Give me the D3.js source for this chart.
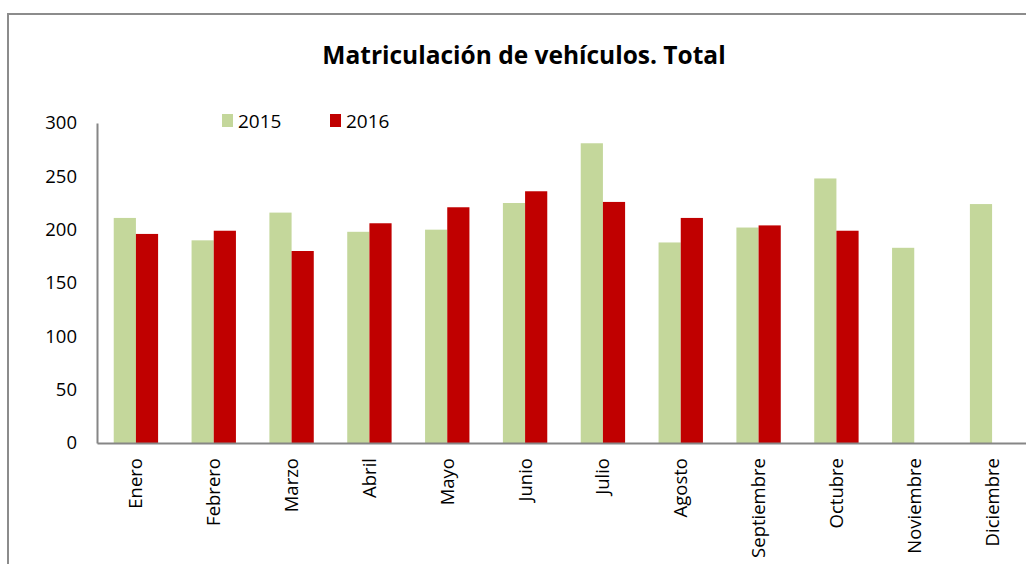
<!DOCTYPE html>
<html>
<head>
<meta charset="utf-8">
<script src="https://cdn.jsdelivr.net/npm/d3@7"></script>
<style>
  html, body { margin: 0; padding: 0; background: #fff; }
  svg { display: block; font-family: "Open Sans", sans-serif; }
</style>
</head>
<body>
<div id="chart"></div>
<script>
const months = ['Enero', 'Febrero', 'Marzo', 'Abril', 'Mayo', 'Junio', 'Julio',
    'Agosto', 'Septiembre', 'Octubre', 'Noviembre', 'Diciembre'];
const seriesNames = ['2015', '2016'];
const values2015 = [211, 190, 216, 198, 200, 225, 281, 188, 202, 248, 183, 224];
const values2016 = [196, 199, 180, 206, 221, 236, 226, 211, 204, 199, null, null];
const yTicks = [0, 50, 100, 150, 200, 250, 300];
const colors = ['#c4d79b', '#c00000'];

function drawChart() {
    const W = 1026, H = 564;
    const svg = d3.select('#chart').append('svg')
        .attr('width', W)
        .attr('height', H);

    // outer chart frame (only top and left edges are visible)
    svg.append('rect')
        .attr('x', 8).attr('y', 14)
        .attr('width', 1100).attr('height', 700)
        .attr('fill', 'none')
        .attr('stroke', '#8c8c8c')
        .attr('stroke-width', 2);

    svg.append('text')
        .attr('x', 524)
        .attr('y', 64)
        .attr('text-anchor', 'middle')
        .style('font-size', '24.5px')
        .style('font-weight', 'bold')
        .text('Matriculación de vehículos. Total');

    const left = 97, right = 1031, top = 123, bottom = 443;

    const x0 = d3.scaleBand()
        .domain(months)
        .range([left, right]);

    const x1 = d3.scaleBand()
        .domain(seriesNames)
        .range([x0.bandwidth() * 0.215, x0.bandwidth() * 0.785]);

    const y = d3.scaleLinear()
        .domain([0, 300])
        .range([bottom, top]);

    const rows = months.map((m, i) => ({
        month: m,
        vals: [
            { key: '2015', value: values2015[i] },
            { key: '2016', value: values2016[i] }
        ]
    }));

    const groups = svg.append('g').selectAll('g')
        .data(rows)
        .join('g')
        .attr('transform', d => `translate(${x0(d.month)},0)`);

    groups.selectAll('rect')
        .data(d => d.vals.filter(v => v.value != null))
        .join('rect')
        .attr('x', d => x1(d.key))
        .attr('y', d => y(d.value))
        .attr('width', x1.bandwidth())
        .attr('height', d => y(0) - y(d.value))
        .attr('fill', d => colors[seriesNames.indexOf(d.key)]);

    // Y axis
    const yAxis = svg.append('g')
        .attr('transform', `translate(${left},0)`)
        .call(d3.axisLeft(y).tickValues(yTicks).tickSize(0).tickPadding(20));
    yAxis.select('.domain').attr('stroke', '#868686').attr('stroke-width', 2);
    yAxis.selectAll('text')
        .style('font-size', '18.5px')
        .style('font-family', '"Open Sans", sans-serif')
        .attr('fill', '#000');

    // X axis
    const xAxis = svg.append('g')
        .attr('transform', `translate(0,${bottom})`)
        .call(d3.axisBottom(x0).tickSize(0).tickSizeOuter(0));
    xAxis.select('.domain').attr('stroke', '#868686').attr('stroke-width', 2);
    xAxis.selectAll('text')
        .style('font-size', '18.5px')
        .style('font-family', '"Open Sans", sans-serif')
        .attr('fill', '#000')
        .attr('text-anchor', 'end')
        .attr('transform', 'rotate(-90)')
        .attr('x', -15)
        .attr('y', 0)
        .attr('dy', '0.35em');

    // Legend
    const legendX = [222, 330];
    const legend = svg.append('g').selectAll('g')
        .data(seriesNames)
        .join('g')
        .attr('transform', (d, i) => `translate(${legendX[i]},114)`);
    legend.append('rect')
        .attr('width', 11).attr('height', 13)
        .attr('fill', (d, i) => colors[i]);
    legend.append('text')
        .attr('x', 16).attr('y', 7)
        .attr('dy', '0.35em')
        .style('font-size', '19px')
        .text(d => d);
}

drawChart();
</script>
</body>
</html>
